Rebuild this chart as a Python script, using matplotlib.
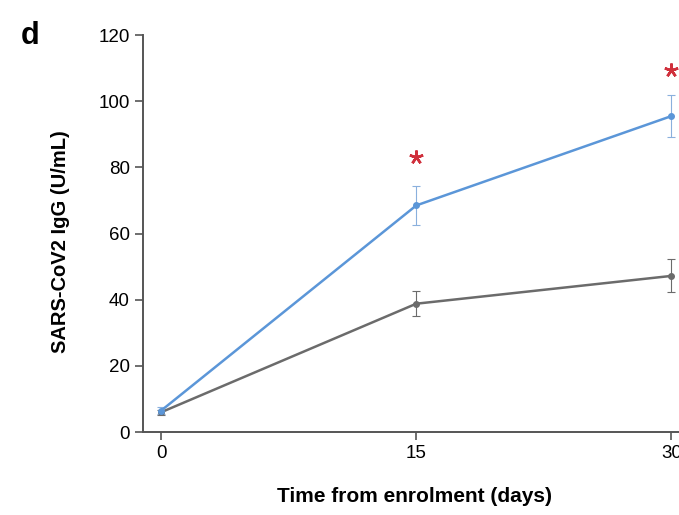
import matplotlib.pyplot as plt

plt.rcParams['font.family'] = ['Liberation Sans', 'DejaVu Sans']

days = [0, 15, 30]
igg_treated = [6.5, 68.5, 95.5]
err_treated = [1.0, 6.0, 6.3]
igg_control = [6.0, 38.8, 47.2]
err_control = [0.8, 3.8, 5.0]
star_days = [15, 30]
star_heights = [83, 109.5]

fig = plt.figure(figsize=(6.79, 5.15), dpi=100)
ax = fig.add_axes([0.2106, 0.161, 0.80, 0.771])

ax.errorbar(days, igg_control, yerr=err_control, color='#6b6b6b', lw=1.8,
            marker='o', ms=4, capsize=3, elinewidth=0.8, capthick=0.8)
ax.errorbar(days, igg_treated, yerr=err_treated, color='#5b96d8', lw=1.8,
            marker='o', ms=4, capsize=3, elinewidth=0.8, capthick=0.8,
            ecolor='#8ab0dd')
# significance stars
ax.plot(star_days, star_heights, ls='none', marker=(5, 2, 0), ms=10, mew=1.8,
        color='#d0303c', clip_on=False)

ax.set_xlim(-1.07, 30.87)
ax.set_ylim(0, 120)
ax.set_xticks(days)
ax.set_yticks(range(0, 121, 20))
ax.tick_params(labelsize=13.5, length=6, color='#555555', width=1.2)
ax.spines['top'].set_visible(False)
ax.spines['right'].set_visible(False)
for s in ['left', 'bottom']:
    ax.spines[s].set_color('#555555')
    ax.spines[s].set_linewidth(1.4)

ax.set_ylabel('SARS-CoV2 IgG (U/mL)', fontsize=14.5, fontweight='bold')
ax.yaxis.set_label_coords(-0.135, 0.48)
ax.set_xlabel('Time from enrolment (days)', fontsize=15, fontweight='bold', labelpad=18)
fig.text(0.03, 0.93, 'd', fontsize=22, fontweight='bold', ha='left', va='center')

fig.savefig('out.png', dpi=100)
